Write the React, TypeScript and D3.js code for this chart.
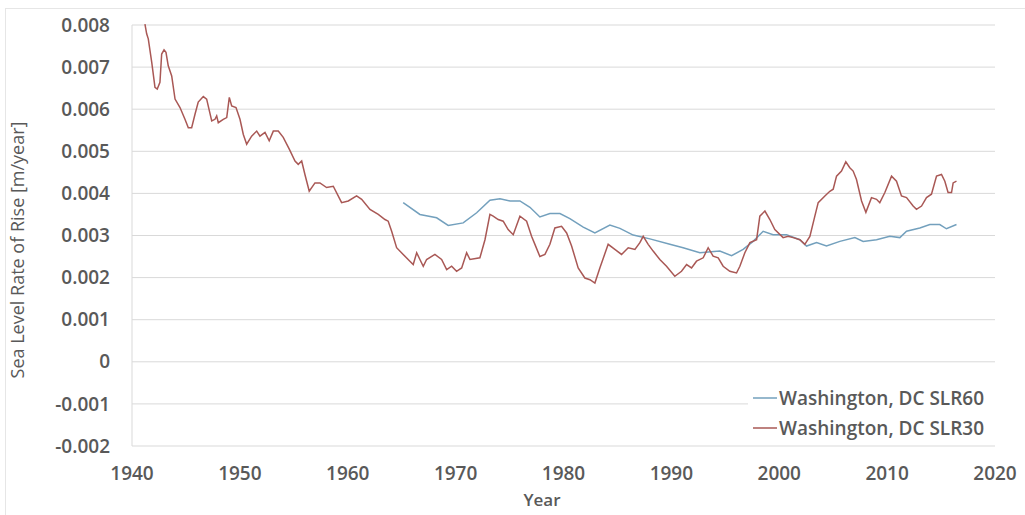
import React from "react";
import * as d3 from "d3";

const xTicks = [1940, 1950, 1960, 1970, 1980, 1990, 2000, 2010, 2020];
const yTicks = [-0.002, -0.001, 0, 0.001, 0.002, 0.003, 0.004, 0.005, 0.006, 0.007, 0.008];
const yTickLabels = ["-0.002", "-0.001", "0", "0.001", "0.002", "0.003", "0.004", "0.005", "0.006", "0.007", "0.008"];

const seriesNames = ["Washington, DC SLR60", "Washington, DC SLR30"];

const slr30Years = [
  1941.2, 1941.36, 1941.51, 1941.83, 1942.13, 1942.34, 1942.59, 1942.75, 1942.97, 1943.15,
  1943.36, 1943.68, 1943.99, 1944.45, 1944.91, 1945.22, 1945.53, 1945.84, 1946.14, 1946.61,
  1946.92, 1947.39, 1947.69, 1947.85, 1948.0, 1948.46, 1948.78, 1949.02, 1949.24, 1949.64,
  1950.01, 1950.32, 1950.63, 1951.09, 1951.56, 1951.86, 1952.33, 1952.72, 1953.1, 1953.56,
  1954.02, 1954.58, 1955.11, 1955.41, 1955.73, 1956.03, 1956.43, 1956.96, 1957.42, 1958.04,
  1958.66, 1959.43, 1960.05, 1960.82, 1961.29, 1962.06, 1962.83, 1963.45, 1963.75, 1964.07,
  1964.53, 1965.14, 1965.76, 1966.07, 1966.39, 1966.69, 1967.0, 1967.31, 1968.08, 1968.7,
  1969.17, 1969.63, 1970.09, 1970.56, 1971.02, 1971.33, 1972.25, 1972.72, 1973.18, 1973.48,
  1973.95, 1974.41, 1974.87, 1975.34, 1975.96, 1976.58, 1977.04, 1977.35, 1977.81, 1978.28,
  1978.74, 1979.2, 1979.82, 1980.29, 1980.75, 1981.36, 1981.98, 1982.45, 1982.91, 1983.37,
  1984.14, 1984.76, 1985.38, 1986.0, 1986.62, 1987.08, 1987.39, 1987.85, 1988.31, 1988.93,
  1989.55, 1990.32, 1990.94, 1991.41, 1991.87, 1992.33, 1992.95, 1993.41, 1993.87, 1994.34,
  1994.8, 1995.42, 1996.04, 1996.35, 1996.81, 1997.28, 1997.9, 1998.2, 1998.67, 1999.13,
  1999.59, 2000.36, 2000.82, 2001.29, 2001.91, 2002.37, 2002.84, 2003.3, 2003.61, 2004.23,
  2004.69, 2005.0, 2005.31, 2005.77, 2006.17, 2006.54, 2006.85, 2007.16, 2007.63, 2008.03,
  2008.55, 2009.02, 2009.32, 2009.79, 2010.41, 2010.87, 2011.33, 2011.8, 2012.41, 2012.72,
  2013.19, 2013.65, 2014.11, 2014.58, 2015.04, 2015.35, 2015.65, 2015.97, 2016.12, 2016.43,
];
const slr30Values = [
  0.00802, 0.00779, 0.00767, 0.00711, 0.00652, 0.00648, 0.00664, 0.00731, 0.00741, 0.00735,
  0.00703, 0.00679, 0.00624, 0.00604, 0.00576, 0.00556, 0.00556, 0.00588, 0.00617, 0.0063,
  0.00624, 0.00572, 0.00576, 0.00584, 0.00568, 0.00576, 0.0058, 0.00628, 0.00608, 0.00604,
  0.00576, 0.0054, 0.00517, 0.00536, 0.00548, 0.00536, 0.00545, 0.00525, 0.00548, 0.00548,
  0.00533, 0.00505, 0.00477, 0.00469, 0.00477, 0.00445, 0.00405, 0.00425, 0.00425, 0.00414,
  0.00417, 0.00378, 0.00382, 0.00394, 0.00386, 0.00362, 0.0035, 0.00338, 0.00334, 0.0031,
  0.00271, 0.00255, 0.00239, 0.00231, 0.00259, 0.00243, 0.00227, 0.00243, 0.00255, 0.00243,
  0.00219, 0.00227, 0.00215, 0.00223, 0.00259, 0.00243, 0.00247, 0.0029, 0.0035, 0.00346,
  0.00338, 0.00334, 0.00314, 0.00302, 0.00346, 0.00334, 0.00298, 0.00279, 0.0025, 0.00255,
  0.00279, 0.00318, 0.00322, 0.00306, 0.00275, 0.00223, 0.00199, 0.00195, 0.00187, 0.00223,
  0.00279, 0.00267, 0.00255, 0.00271, 0.00267, 0.00283, 0.00298, 0.00279, 0.00263, 0.00243,
  0.00227, 0.00203, 0.00215, 0.00231, 0.00223, 0.00239, 0.00247, 0.00271, 0.00251, 0.00247,
  0.00227, 0.00215, 0.00211, 0.00227, 0.00259, 0.00283, 0.0029, 0.00346, 0.00358, 0.00338,
  0.00314, 0.00295, 0.00298, 0.00295, 0.0029, 0.00279, 0.00298, 0.00346, 0.00378, 0.00394,
  0.00405, 0.0041, 0.00441, 0.00453, 0.00475, 0.00461, 0.00453, 0.00433, 0.00382, 0.00355,
  0.0039, 0.00386, 0.00378, 0.00402, 0.00441, 0.00429, 0.00394, 0.0039, 0.0037, 0.00362,
  0.0037, 0.0039, 0.00398, 0.00441, 0.00445, 0.00429, 0.00402, 0.00402, 0.00425, 0.00429,
];

const slr60Years = [
  1965.14, 1966.69, 1968.24, 1969.31, 1970.7, 1971.95, 1973.18, 1974.11, 1975.04, 1975.96,
  1976.89, 1977.81, 1978.74, 1979.67, 1980.59, 1981.83, 1982.91, 1984.3, 1985.23, 1986.46,
  1988.01, 1989.86, 1991.09, 1992.64, 1994.49, 1995.58, 1996.65, 1997.58, 1998.51, 1999.43,
  2000.68, 2001.91, 2002.53, 2003.46, 2004.38, 2005.62, 2007.01, 2007.78, 2009.02, 2010.25,
  2011.18, 2011.8, 2013.03, 2013.96, 2014.88, 2015.5, 2016.43,
];
const slr60Values = [
  0.00378, 0.0035, 0.00342, 0.00324, 0.0033, 0.00354, 0.00384, 0.00387, 0.00382, 0.00382,
  0.00367, 0.00344, 0.00352, 0.00352, 0.0034, 0.0032, 0.00306, 0.00325, 0.00317, 0.00301,
  0.00292, 0.00279, 0.00271, 0.00259, 0.00263, 0.00252, 0.00267, 0.00286, 0.0031, 0.00302,
  0.00302, 0.0029, 0.00275, 0.00283, 0.00275, 0.00286, 0.00295, 0.00286, 0.0029, 0.00298,
  0.00295, 0.0031, 0.00318, 0.00326, 0.00326, 0.00316, 0.00326,
];

const W = 1025;
const H = 515;
const plot = { left: 132, right: 995, top: 25, bottom: 446 };
const FONT = "'Open Sans', 'Liberation Sans', sans-serif";
const TEXT = "#595959";
const GRID = "#d9d9d9";
const RED = "#a95855";
const BLUE = "#73a0bd";

export default function App() {
  const x = d3.scaleLinear().domain([1940, 2020]).range([plot.left, plot.right]);
  const y = d3.scaleLinear().domain([-0.002, 0.008]).range([plot.bottom, plot.top]);
  const line = d3
    .line<[number, number]>()
    .x((d) => x(d[0]))
    .y((d) => y(d[1]));
  const red = slr30Years.map((yr, i) => [yr, slr30Values[i]] as [number, number]);
  const blue = slr60Years.map((yr, i) => [yr, slr60Values[i]] as [number, number]);

  return (
    <svg
      width={W}
      height={H}
      style={{ position: "absolute", left: 0, top: 0, background: "#fff" }}
      fontFamily={FONT}
    >
      <rect x={5.5} y={8.5} width={1030} height={520} fill="#fff" stroke="#e6e6e6" />
      {yTicks.map((t) => (
        <line key={t} x1={plot.left} x2={plot.right} y1={y(t)} y2={y(t)} stroke={GRID} strokeWidth={1} />
      ))}
      <line x1={plot.left} x2={plot.left} y1={plot.top} y2={plot.bottom} stroke={GRID} strokeWidth={1} />
      {yTicks.map((t, i) => (
        <text
          key={t}
          x={110}
          y={y(t)}
          dy="0.35em"
          textAnchor="end"
          fontSize={19}
          fontWeight={600}
          fill={TEXT}
        >
          {yTickLabels[i]}
        </text>
      ))}
      {xTicks.map((t) => (
        <text key={t} x={x(t)} y={480} textAnchor="middle" fontSize={19} fontWeight={600} fill={TEXT}>
          {t}
        </text>
      ))}
      <text x={542} y={506} textAnchor="middle" fontSize={17} fontWeight={600} fill={TEXT}>
        Year
      </text>
      <text
        transform={`translate(24,250) rotate(-90)`}
        textAnchor="middle"
        fontSize={18}
        fill={TEXT}
      >
        Sea Level Rate of Rise [m/year]
      </text>
      <path d={line(blue) || ""} fill="none" stroke={BLUE} strokeWidth={1.5} />
      <path d={line(red) || ""} fill="none" stroke={RED} strokeWidth={1.5} />
      <rect x={748} y={386} width={250} height={54} fill="#fff" />
      {seriesNames.map((name, i) => (
        <g key={name}>
          <line x1={753} x2={777} y1={398 + i * 30} y2={398 + i * 30} stroke={i === 0 ? BLUE : RED} strokeWidth={1.5} />
          <text x={779} y={405 + i * 30} fontSize={19} fontWeight={600} fill={TEXT}>
            {name}
          </text>
        </g>
      ))}
    </svg>
  );
}
